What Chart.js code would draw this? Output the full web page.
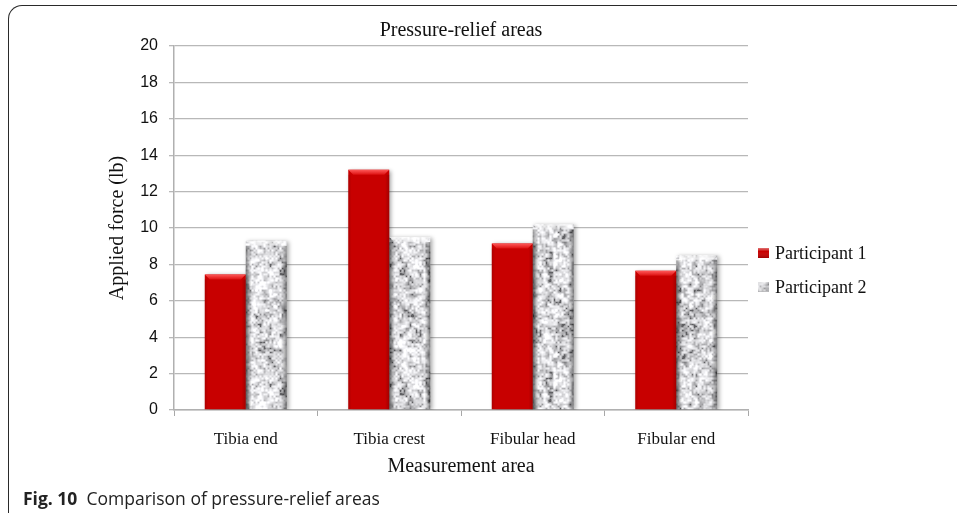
<!DOCTYPE html>
<html>
<head>
<meta charset="utf-8">
<script src="https://cdn.jsdelivr.net/npm/chart.js@4.4.1/dist/chart.umd.min.js"></script>
<style>
  html, body { margin: 0; padding: 0; background: #fff; }
  #wrap { position: relative; width: 957px; height: 513px; overflow: hidden; }
  #frame {
    position: absolute; left: 8px; top: 5px; width: 1000px; height: 600px;
    border-left: 1.5px solid #2a2a2a; border-top: 1.5px solid #2a2a2a;
    border-top-left-radius: 14px;
  }
  #chart { position: absolute; left: 0; top: 0; }
  #caption {
    position: absolute; left: 23px; top: 486px; white-space: nowrap;
    font-family: 'Open Sans', sans-serif; font-size: 17.5px; color: #222;
  }
  #caption b { font-weight: 700; }
</style>
</head>
<body>
<div id="wrap">
  <div id="frame"></div>
  <canvas id="chart" width="957" height="513"></canvas>
  <div id="caption"><b>Fig. 10</b>&nbsp; Comparison of pressure-relief areas</div>
</div>
<script>
// Measurement areas and applied force (lb) per participant
const categories = ['Tibia end', 'Tibia crest', 'Fibular head', 'Fibular end'];
const participant1 = [7.45, 13.2, 9.15, 7.65];
const participant2 = [9.3, 9.5, 10.2, 8.5];
const seriesNames = ['Participant 1', 'Participant 2'];
const yTickLabels = ['0', '2', '4', '6', '8', '10', '12', '14', '16', '18', '20'];

const canvas = document.getElementById('chart');
const ctx = canvas.getContext('2d');

// Small deterministic generator for the stone texture
function mulberry32(a) {
  return function () {
    a |= 0; a = a + 0x6D2B79F5 | 0;
    let t = Math.imul(a ^ a >>> 15, 1 | a);
    t = t + Math.imul(t ^ t >>> 7, 61 | t) ^ t;
    return ((t ^ t >>> 14) >>> 0) / 4294967296;
  };
}

// Seamless mottled grey "granite" tile built from smooth value noise
function makeGranite() {
  const rnd = mulberry32(11);
  const T = 120;
  const octaves = [{ cell: 5, w: 0.5 }, { cell: 2, w: 0.5 }].map(o => {
    const n = T / o.cell;
    const lat = [];
    for (let i = 0; i < n * n; i++) lat.push(rnd());
    return Object.assign({ n, lat }, o);
  });
  const sm = t => t * t * (3 - 2 * t);
  const tile = document.createElement('canvas');
  tile.width = tile.height = T;
  const tctx = tile.getContext('2d');
  const img = tctx.createImageData(T, T);
  for (let y = 0; y < T; y++) {
    for (let x = 0; x < T; x++) {
      let v = 0;
      for (const o of octaves) {
        const fx = x / o.cell, fy = y / o.cell;
        const x0 = Math.floor(fx), y0 = Math.floor(fy);
        const tx = sm(fx - x0), ty = sm(fy - y0);
        const x1 = (x0 + 1) % o.n, y1 = (y0 + 1) % o.n;
        const a = o.lat[y0 * o.n + x0], b = o.lat[y0 * o.n + x1];
        const c = o.lat[y1 * o.n + x0], d = o.lat[y1 * o.n + x1];
        v += o.w * ((a * (1 - tx) + b * tx) * (1 - ty) + (c * (1 - tx) + d * tx) * ty);
      }
      const s = Math.min(1, Math.max(0, (v - 0.15) / 0.6));
      const g = Math.round(95 + 160 * Math.pow(s, 0.45));
      const i = (y * T + x) * 4;
      img.data[i] = g; img.data[i + 1] = g; img.data[i + 2] = Math.min(255, g + 3);
      img.data[i + 3] = 255;
    }
  }
  tctx.putImageData(img, 0, 0);
  return ctx.createPattern(tile, 'repeat');
}
const granite = makeGranite();
const redFill = '#C80000';

// Drop shadow under the bars, then bevelled edges on top of them
const bevelPlugin = {
  id: 'bevel',
  beforeDatasetsDraw(chart) {
    const c = chart.ctx;
    c.save();
    c.shadowColor = 'rgba(0,0,0,0.35)';
    c.shadowBlur = 4;
    c.shadowOffsetX = 2;
    c.shadowOffsetY = 1;
  },
  afterDatasetsDraw(chart) {
    const c = chart.ctx;
    c.restore();
    chart.data.datasets.forEach((ds, di) => {
      const meta = chart.getDatasetMeta(di);
      meta.data.forEach(bar => {
        const p = bar.getProps(['x', 'y', 'base', 'width'], true);
        const l = p.x - p.width / 2, r = p.x + p.width / 2, t = p.y, b = p.base;
        const bv = 5;
        c.save();
        // top chamfer
        c.beginPath();
        c.moveTo(l, t); c.lineTo(r, t); c.lineTo(r - bv, t + bv); c.lineTo(l + bv, t + bv); c.closePath();
        const tg = c.createLinearGradient(0, t, 0, t + bv);
        if (di === 0) { tg.addColorStop(0, '#ff5a5a'); tg.addColorStop(1, '#dc1010'); }
        else { tg.addColorStop(0, 'rgba(255,255,255,0.75)'); tg.addColorStop(1, 'rgba(255,255,255,0.25)'); }
        c.fillStyle = tg; c.fill();
        // side shading
        const lg = c.createLinearGradient(l, 0, r, 0);
        if (di === 0) {
          lg.addColorStop(0, 'rgba(90,0,0,0.25)'); lg.addColorStop(0.08, 'rgba(90,0,0,0)');
          lg.addColorStop(0.9, 'rgba(90,0,0,0)'); lg.addColorStop(1, 'rgba(90,0,0,0.35)');
        } else {
          lg.addColorStop(0, 'rgba(0,0,0,0.4)'); lg.addColorStop(0.14, 'rgba(0,0,0,0)');
          lg.addColorStop(0.86, 'rgba(0,0,0,0)'); lg.addColorStop(1, 'rgba(0,0,0,0.45)');
        }
        c.fillStyle = lg;
        c.fillRect(l, t + bv, r - l, b - t - bv);
        c.restore();
      });
    });
  }
};

// Legend to the right of the plot
const sideLegend = {
  id: 'sideLegend',
  afterDraw(chart) {
    const c = chart.ctx;
    const x0 = 758, ys = [253, 287];
    chart.data.datasets.forEach((ds, i) => {
      const y = ys[i];
      c.save();
      c.fillStyle = i === 0 ? redFill : granite;
      c.fillRect(x0, y - 5, 11, 10);
      const g = c.createLinearGradient(0, y - 5, 0, y + 5);
      g.addColorStop(0, 'rgba(255,255,255,0.45)'); g.addColorStop(0.35, 'rgba(255,255,255,0)');
      g.addColorStop(1, 'rgba(0,0,0,0.2)');
      c.fillStyle = g; c.fillRect(x0, y - 5, 11, 10);
      c.fillStyle = '#111';
      c.font = '18px "Liberation Serif"';
      c.textBaseline = 'middle';
      c.textAlign = 'left';
      c.fillText(ds.label, x0 + 17, y + 1);
      c.restore();
    });
  }
};

new Chart(canvas, {
  type: 'bar',
  data: {
    labels: categories,
    datasets: [
      { label: seriesNames[0], data: participant1, backgroundColor: redFill, borderWidth: 0 },
      { label: seriesNames[1], data: participant2, backgroundColor: granite, borderWidth: 0 }
    ]
  },
  options: {
    responsive: false,
    animation: false,
    devicePixelRatio: 1,
    layout: { padding: { left: 0, right: 209, top: 0, bottom: 33 } },
    datasets: { bar: { categoryPercentage: 0.571, barPercentage: 1 } },
    plugins: {
      legend: { display: false },
      tooltip: { enabled: false },
      title: {
        display: true, text: 'Pressure-relief areas', fullSize: false,
        font: { family: 'Liberation Serif', size: 20, weight: 'normal' },
        color: '#111', padding: { top: 19, bottom: 3 }
      }
    },
    scales: {
      x: {
        grid: { display: true, drawOnChartArea: false, drawTicks: true, tickLength: 6, color: '#A8A8A8', offset: true },
        border: { display: true, color: '#B0B0B0', width: 1.5 },
        ticks: { font: { family: 'Liberation Serif', size: 17 }, color: '#111', padding: 13 },
        title: {
          display: true, text: 'Measurement area',
          font: { family: 'Liberation Serif', size: 20 }, color: '#111',
          padding: { top: 0, bottom: 1 }
        },
        afterFit(s) { s.height = 70; }
      },
      y: {
        min: 0, max: 20,
        ticks: {
          stepSize: 2, padding: 11, color: '#111',
          font: { family: 'Liberation Sans', size: 16 },
          callback: (v, i) => yTickLabels[i]
        },
        grid: { color: '#B8B8B8', lineWidth: 1.3, tickLength: 5 },
        border: { color: '#B0B0B0', width: 1.5 },
        title: {
          display: true, text: 'Applied force (lb)',
          font: { family: 'Liberation Serif', size: 20 }, color: '#111',
          padding: { top: 106, bottom: 0 }
        },
        afterFit(s) { s.width = 174; }
      }
    }
  },
  plugins: [bevelPlugin, sideLegend]
});
</script>
</body>
</html>
